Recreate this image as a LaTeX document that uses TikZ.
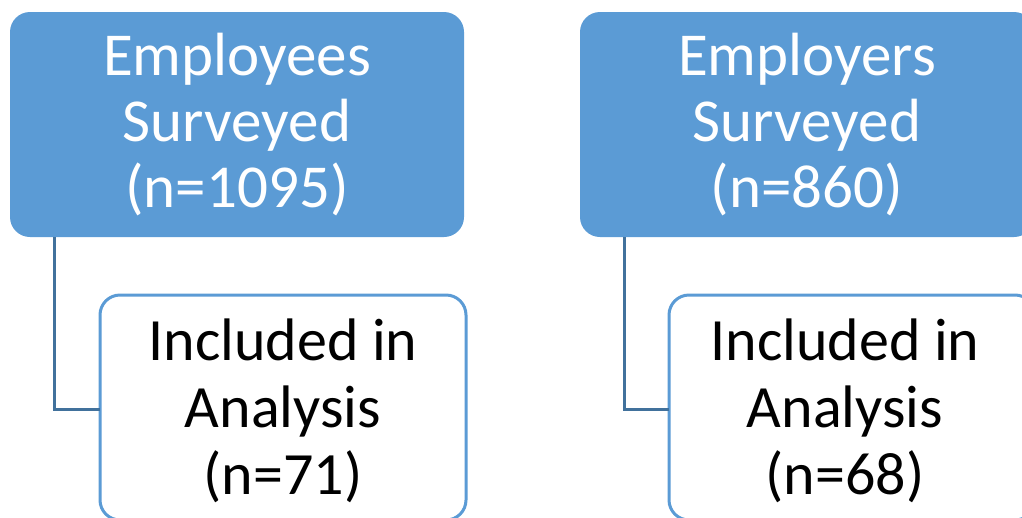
\documentclass[tikz,border=0pt]{standalone}
\usepackage{fontspec}
\setmainfont{Carlito}
\definecolor{boxblue}{HTML}{5B9BD5}
\definecolor{linkblue}{HTML}{41719C}
\begin{document}
\begin{tikzpicture}[x=1pt,y=-1pt,
  panel/.style={rounded corners=20pt, minimum height=225pt, inner sep=0pt, outer sep=0pt},
  topbox/.style={panel, minimum width=454pt, fill=boxblue, draw=none},
  subbox/.style={panel, minimum width=366pt, draw=boxblue, line width=3pt, fill=white},
  toptext/.style={text=white, font=\fontsize{61}{66}\selectfont, align=center, inner sep=0pt},
  subtext/.style={text=black, font=\fontsize{60}{67}\selectfont, align=center, inner sep=0pt},
  link/.style={draw=linkblue, line width=3pt}]
\useasboundingbox (0,0) rectangle (1022,517);

% survey groups
\node[topbox] (emp) at (237,124.5) {};
\node[topbox] (empr) at (807,124.5) {};

% analysed subsets
\node[subbox] (inc) at (283,407.5) {};
\node[subbox] (incr) at (852,407.5) {};

% elbow connectors (shifts are in page units: negative = downward)
\draw[link] ([xshift=44pt]emp.south west) |- ([yshift=-1.5pt]inc.west);
\draw[link] ([xshift=44pt]empr.south west) |- ([yshift=-1.5pt]incr.west);

% labels
\node[toptext] (empT) at (emp.center) {Employees\\Surveyed\\(n=1095)};
\node[toptext] (emprT) at (empr.center) {Employers\\Surveyed\\(n=860)};
\node[subtext] (incT) at ([yshift=-3pt]inc.center) {Included in\\Analysis\\(n=71)};
\node[subtext] (incrT) at ([xshift=-7pt,yshift=-3pt]incr.center) {Included in\\Analysis\\(n=68)};
\end{tikzpicture}
\end{document}
